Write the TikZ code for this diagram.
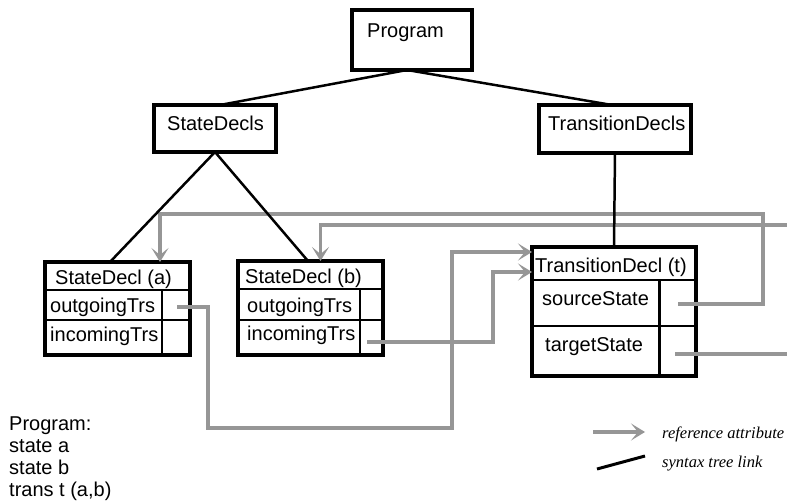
\documentclass[tikz,border=0pt]{standalone}
\usepackage{fontspec}
\setmainfont{Liberation Sans}
\newfontfamily\legendfont{Liberation Serif}
\usetikzlibrary{arrows.meta}
\definecolor{refgray}{RGB}{150,150,150}
\begin{document}
\begin{tikzpicture}[x=1bp,y=-1bp,
  box/.style={draw=black, line width=3.5pt, inner sep=0pt, outer sep=0pt},
  cellline/.style={line width=3pt},
  treelink/.style={line width=2.5pt, draw=black},
  refline/.style={draw=refgray, line width=4pt},
  refarrow/.style={refline, -{Stealth[length=14bp,width=17bp,inset=7bp]}},
  lbl/.style={anchor=base west, inner sep=0pt, font=\fontsize{20bp}{24bp}\selectfont},
  leg/.style={anchor=base west, inner sep=0pt, font=\legendfont\itshape\fontsize{16.5bp}{20bp}\selectfont}]
\useasboundingbox (0,0) rectangle (787,504);

% boxes
\node[box, minimum width=120bp, minimum height=60bp] (prog) at (412,40) {};
\node[box, minimum width=122bp, minimum height=47bp] (sdecls) at (215,128.5) {};
\node[box, minimum width=152bp, minimum height=48bp] (tdecls) at (615,129) {};
\node[box, minimum width=145bp, minimum height=93bp] (sa) at (117.5,308.5) {};
\node[box, minimum width=145bp, minimum height=94bp] (sb) at (310.5,308) {};
\node[box, minimum width=164bp, minimum height=129bp] (td) at (614,311.5) {};

% cell dividers
\draw[cellline] (45,290) -- (190,290) (45,320) -- (190,320) (162,290) -- (162,355);
\draw[cellline] (238,289) -- (383,289) (238,320) -- (383,320) (360,289) -- (360,355);
\draw[cellline] (532,280) -- (696,280) (532,326) -- (696,326) (659,280) -- (659,376);

% texts
\node[lbl] (tProg) at (367,38) {Program};
\node[lbl] (tSdecls) at (167,131) {StateDecls};
\node[lbl] (tTdecls) at (548,131) {TransitionDecls};
\node[lbl] (tSa) at (55,285) {StateDecl (a)};
\node[lbl] (tSaOut) at (50,313) {outgoingTrs};
\node[lbl] (tSaIn) at (50,341) {incomingTrs};
\node[lbl] (tSb) at (245,284) {StateDecl (b)};
\node[lbl] (tSbOut) at (247,313) {outgoingTrs};
\node[lbl] (tSbIn) at (247,340) {incomingTrs};
\node[lbl] (tTd) at (535,273) {TransitionDecl (t)};
\node[lbl] (tTdSrc) at (542,306) {sourceState};
\node[lbl] (tTdTgt) at (545,351) {targetState};

\node[lbl] (p1) at (9,430) {Program:};
\node[lbl] (p2) at (9,452) {state a};
\node[lbl] (p3) at (9,474) {state b};
\node[lbl] (p4) at (9,496) {trans t (a,b)};

% reference attributes
\coordinate (aOut) at (177,307);
\coordinate (bIn) at (367,342);
\coordinate (tSrc) at (678,304);
\coordinate (tTgt) at (675,354);
\coordinate (exitR) at (787,354);
\coordinate (enterR) at (787,225);

\draw[refarrow] (tSrc) -| (763,214) -| ([xshift=42.5bp]sa.north);
\draw[refline] (tTgt) -- (exitR);
\draw[refarrow] (enterR) -| ([xshift=10bp]sb.north);
\draw[refarrow] (aOut) -| (208,428) -| (452,252) -- ([yshift=-5bp]td.north west);
\draw[refarrow] (bIn) -| (493,272) -- ([yshift=-25bp]td.north west);

% syntax tree links
\draw[treelink] ([xshift=-5bp]prog.south) -- ([xshift=5bp]sdecls.north);
\draw[treelink] ([xshift=-5bp]prog.south) -- ([xshift=-3bp]tdecls.north);
\draw[treelink] (sdecls.south) -- ([xshift=-7.5bp]sa.north);
\draw[treelink] (sdecls.south) -- ([xshift=-2.5bp]sb.north);
\draw[treelink] (tdecls.south) -- (td.north);

% legend
\coordinate (la1) at (593,432);
\coordinate (la2) at (645,432);
\coordinate (lb1) at (597,469);
\coordinate (lb2) at (645,456);
\draw[refarrow] (la1) -- (la2);
\draw[treelink, line width=3pt] (lb1) -- (lb2);
\node[leg] (legRef) at (662,438) {reference attribute};
\node[leg] (legTree) at (662,467) {syntax tree link};
\end{tikzpicture}
\end{document}
